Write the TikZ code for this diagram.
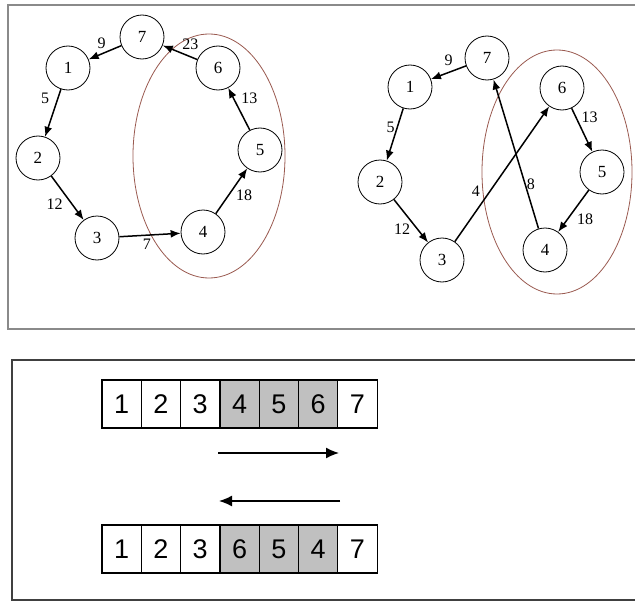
\documentclass[tikz,border=0pt]{standalone}
\usepackage{fontspec}
\setmainfont{Liberation Serif}
\newfontfamily\cellfont{Liberation Sans}
\usetikzlibrary{arrows.meta}
\definecolor{rim}{HTML}{9A5A50}
\definecolor{frame}{HTML}{8A8A8A}
\definecolor{shade}{HTML}{C0C0C0}

\begin{document}
\begin{tikzpicture}[x=1pt, y=-1pt, >={Latex[length=10pt,width=8pt]},
  vert/.style={draw, circle, line width=0.8pt, minimum size=44pt, inner sep=0pt, font=\fontsize{17}{17}\selectfont},
  link/.style={->, line width=1.5pt},
  wt/.style={font=\fontsize{16}{16}\selectfont, inner sep=1pt},
  cell/.style={draw, line width=1.2pt, minimum width=39.3pt, minimum height=48pt, inner sep=0pt, font=\cellfont\fontsize{27}{27}\selectfont},
  swap/.style={->, line width=1.5pt, >={Latex[length=13pt,width=11pt]}}]
\useasboundingbox (0,0) rectangle (635,602);
\clip (0,0) rectangle (635,602);
\fill[white] (0,0) rectangle (635,602);

% frames
\draw[frame, line width=2pt] (8,5) rectangle (650,329);
\draw[black!75, line width=2pt] (12,360) rectangle (650,600);

% left tour
\draw[rim, line width=0.8pt] (209,156) ellipse [x radius=76pt, y radius=122pt];
\node[vert] (l7) at (142,37) {7};
\node[vert] (l1) at (68,68) {1};
\node[vert] (l2) at (38,158) {2};
\node[vert] (l3) at (97,238) {3};
\node[vert] (l4) at (203,232) {4};
\node[vert] (l5) at (260,150) {5};
\node[vert] (l6) at (218,68) {6};
\draw[link] (l7) -- node[wt, above=3pt, pos=0.6] (la) {9} (l1);
\draw[link] (l1) -- node[wt, left=7pt, pos=0.2] (lb) {5} (l2);
\draw[link] (l2) -- node[wt, left=8pt, pos=0.65] (lc) {12} (l3);
\draw[link] (l3) -- node[wt, below=2pt, pos=0.45] (ld) {7} (l4);
\draw[link] (l4) -- node[wt, right=6pt, pos=0.4] (le) {18} (l5);
\draw[link] (l5) -- node[wt, right=6pt, pos=0.75] (lf) {13} (l6);
\draw[link] (l6) -- node[wt, above=5pt, pos=0.2] (lg) {23} (l7);

% right tour, after the 2-opt move
\draw[rim, line width=0.8pt] (557,172) ellipse [x radius=75pt, y radius=122pt];
\node[vert] (r7) at (487,58) {7};
\node[vert] (r1) at (410,87) {1};
\node[vert] (r2) at (380,182) {2};
\node[vert] (r3) at (442,260) {3};
\node[vert] (r4) at (545,250) {4};
\node[vert] (r5) at (602,172) {5};
\node[vert] (r6) at (562,88) {6};
\draw[link] (r7) -- node[wt, above=5pt] (ra) {9} (r1);
\draw[link] (r1) -- node[wt, left=1pt, pos=0.36] (rb) {5} (r2);
\draw[link] (r2) -- node[wt, left=6pt, pos=0.7] (rc) {12} (r3);
\draw[link] (r3) -- node[wt, left=8pt, pos=0.37] (rd) {4} (r6);
\draw[link] (r6) -- node[wt, right=4pt, pos=0.2] (re) {13} (r5);
\draw[link] (r5) -- node[wt, right=8pt, pos=0.7] (rf) {18} (r4);
\draw[link] (r4) -- node[wt, right=0pt, pos=0.3] (rg) {8} (r7);

% arrays
\foreach \v/\f [count=\i] in {1/white,2/white,3/white,4/shade,5/shade,6/shade,7/white}
  \node[cell, fill=\f] (up\i) at ({102+39.3*(\i-0.5)},404) {\v};
\foreach \v/\f [count=\i] in {1/white,2/white,3/white,6/shade,5/shade,4/shade,7/white}
  \node[cell, fill=\f] (dn\i) at ({102+39.3*(\i-0.5)},549) {\v};
\coordinate (fwd0) at (218,453);
\coordinate (fwd1) at (339,453);
\coordinate (bwd0) at (340,501);
\coordinate (bwd1) at (219,501);
\draw[swap] (fwd0) -- (fwd1);
\draw[swap] (bwd0) -- (bwd1);
\end{tikzpicture}
\end{document}
